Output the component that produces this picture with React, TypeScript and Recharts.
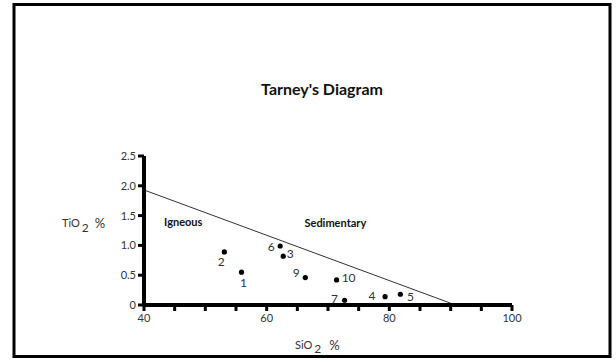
import React from 'react';
import { ScatterChart, Scatter, XAxis, YAxis, ReferenceLine, ReferenceDot } from 'recharts';

// sample numbers, SiO2 % and TiO2 %
const sampleIds = ['1', '2', '3', '4', '5', '6', '7', '9', '10'];
const silica = [55.9, 53.1, 62.7, 79.3, 81.8, 62.2, 72.7, 66.3, 71.4];
const titania = [0.55, 0.89, 0.82, 0.14, 0.18, 0.99, 0.08, 0.46, 0.42];

// igneous / sedimentary boundary
const boundaryX = [40, 90];
const boundaryY = [1.93, 0.03];

const xTicks = [40, 45, 50, 55, 60, 65, 70, 75, 80, 85, 90, 95, 100];
const xLabelled = [40, 60, 80, 100];
const yTicks = [0, 0.5, 1, 1.5, 2, 2.5];

const fieldNames = ['Igneous', 'Sedimentary'];
const fieldX = [46.4, 71.2];
const fieldY = [1.39, 1.38];

const data = sampleIds.map((id, i) => ({ id, x: silica[i], y: titania[i] }));

// where each sample number sits relative to its dot (px)
const labelOffset = {
  '1': [2, 11],
  '2': [-3, 10],
  '3': [7, -2],
  '4': [-13, -1],
  '5': [10, 3],
  '6': [-9, 1],
  '7': [-10, -1],
  '9': [-9, -5],
  '10': [12, -2],
};

const font = 'Lato, "Open Sans", sans-serif';
const ink = '#333';

const Dot = (props) => {
  const { cx, cy, payload } = props;
  const [dx, dy] = labelOffset[payload.id] || [8, 0];
  return (
    <g>
      <circle cx={cx} cy={cy} r={2.6} fill="#000" />
      <text x={cx + dx} y={cy + dy} dy="0.35em" textAnchor="middle" fontSize={12} fontFamily={font} fill={ink}>
        {payload.id}
      </text>
    </g>
  );
};

const App = () => {
  return (
    <div style={{ position: 'relative', width: 616, height: 362, background: '#fff', overflow: 'hidden' }}>
      <style>{'html,body{margin:0;padding:0;overflow:hidden}'}</style>
      <div style={{ position: 'absolute', left: 0, top: 0 }}>
        <ScatterChart width={616} height={362} margin={{ top: 156, right: 104, bottom: 27, left: 114 }}>
          <XAxis
            type="number"
            dataKey="x"
            domain={[40, 100]}
            ticks={xTicks}
            height={30}
            interval={0}
            tickFormatter={(v) => (xLabelled.includes(v) ? String(v) : '')}
            axisLine={{ stroke: '#000', strokeWidth: 4 }}
            tickLine={{ stroke: '#000', strokeWidth: 3 }}
            tickSize={6}
            tickMargin={3}
            tick={{ fontSize: 11, fontFamily: font, fill: ink }}
          />
          <YAxis
            type="number"
            dataKey="y"
            domain={[0, 2.5]}
            ticks={yTicks}
            width={30}
            interval={0}
            tickFormatter={(v) => (v === 0 ? '0' : v.toFixed(1))}
            axisLine={{ stroke: '#000', strokeWidth: 4 }}
            tickLine={{ stroke: '#000', strokeWidth: 3 }}
            tickSize={6}
            tickMargin={2}
            tick={{ fontSize: 11, fontFamily: font, fill: ink }}
          />
          <ReferenceLine
            segment={[
              { x: boundaryX[0], y: boundaryY[0] },
              { x: boundaryX[1], y: boundaryY[1] },
            ]}
            stroke="#333"
            strokeWidth={1}
          />
          {fieldNames.map((name, i) => (
            <ReferenceDot
              key={name}
              x={fieldX[i]}
              y={fieldY[i]}
              r={0}
              fill="none"
              stroke="none"
              label={{ value: name, position: 'center', fontSize: 11, fontWeight: 700, fontFamily: font, fill: '#111' }}
            />
          ))}
          <Scatter data={data} shape={Dot} isAnimationActive={false} />
        </ScatterChart>
      </div>
      <svg width={616} height={362} style={{ position: 'absolute', left: 0, top: 0, pointerEvents: 'none' }}>
        <rect x={14} y={4.5} width={596} height={352} fill="none" stroke="#000" strokeWidth={3} />
        <text x={322} y={95} textAnchor="middle" fontSize={16} fontWeight={700} fontFamily={font} fill="#111">
          Tarney's Diagram
        </text>
        <text x={62} y={227} fontSize={11} fontFamily={font} fill={ink}>
          TiO<tspan dy={5} fontSize={12} dx={2}>2</tspan>
          <tspan dy={-4} dx={6} fontSize={13}>%</tspan>
        </text>
        <text x={295} y={349} fontSize={11} fontFamily={font} fill={ink}>
          SiO<tspan dy={4} fontSize={12} dx={2}>2</tspan>
          <tspan dy={-3} dx={8} fontSize={13}>%</tspan>
        </text>
      </svg>
    </div>
  );
};

export default App;
